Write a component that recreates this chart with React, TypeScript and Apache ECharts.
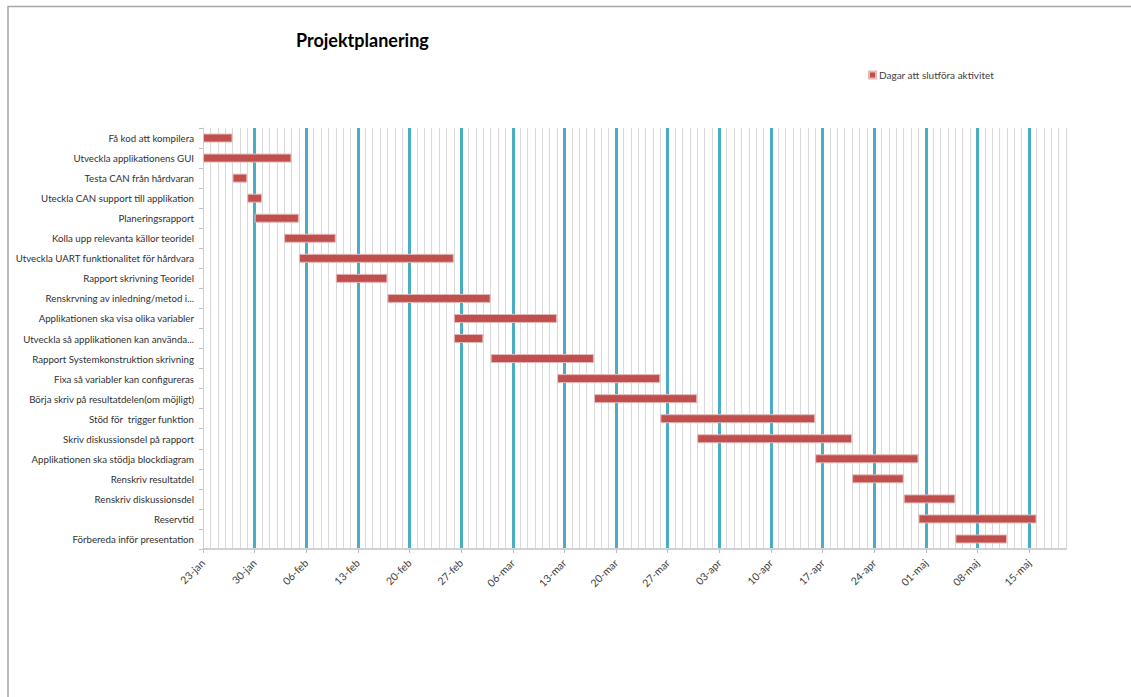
import React, { useEffect, useRef } from "react";
import * as echarts from "echarts";

// Activities, top to bottom
const tasks = [
  "Få kod att kompilera",
  "Utveckla applikationens GUI",
  "Testa CAN från hårdvaran",
  "Uteckla CAN support till applikation",
  "Planeringsrapport",
  "Kolla upp relevanta källor teoridel",
  "Utveckla UART funktionalitet för hårdvara",
  "Rapport skrivning Teoridel",
  "Renskrvning av inledning/metod i...",
  "Applikationen ska visa olika variabler",
  "Utveckla så applikationen kan använda...",
  "Rapport Systemkonstruktion skrivning",
  "Fixa så variabler kan configureras",
  "Börja skriv på resultatdelen(om möjligt)",
  "Stöd för  trigger funktion",
  "Skriv diskussionsdel på rapport",
  "Applikationen ska stödja blockdiagram",
  "Renskriv resultatdel",
  "Renskriv diskussionsdel",
  "Reservtid",
  "Förbereda inför presentation",
];

// Start date of each activity
const startDates = [
  "2011-01-23", "2011-01-23", "2011-01-27", "2011-01-29", "2011-01-30",
  "2011-02-03", "2011-02-05", "2011-02-10", "2011-02-17", "2011-02-26",
  "2011-02-26", "2011-03-03", "2011-03-12", "2011-03-17", "2011-03-26",
  "2011-03-31", "2011-04-16", "2011-04-21", "2011-04-28", "2011-04-30",
  "2011-05-05",
];

// Dagar att slutföra aktivitet
const durations = [4, 12, 2, 2, 6, 7, 21, 7, 14, 14, 4, 14, 14, 14, 21, 21, 14, 7, 7, 16, 7];

// Weekly tick labels
const tickLabels = [
  "23-jan", "30-jan", "06-feb", "13-feb", "20-feb", "27-feb", "06-mar", "13-mar",
  "20-mar", "27-mar", "03-apr", "10-apr", "17-apr", "24-apr", "01-maj", "08-maj", "15-maj",
];

const axisStart = "2011-01-23";
const axisEnd = "2011-05-20";

const DAY = 24 * 3600 * 1000;
const dayOffset = (d: string) => Math.round((Date.parse(d) - Date.parse(axisStart)) / DAY);

const startOffsets = startDates.map(dayOffset);
const maxDay = dayOffset(axisEnd);

const FONT = "Lato, 'Open Sans', sans-serif";

export default function App() {
  const ref = useRef<HTMLDivElement>(null);

  useEffect(() => {
    if (!ref.current) return;
    const chart = echarts.init(ref.current, undefined, { renderer: "svg" });
    chart.setOption({
      animation: false,
      backgroundColor: "#ffffff",
      textStyle: { fontFamily: FONT },
      title: {
        text: "Projektplanering",
        left: 291,
        top: 26,
        textStyle: { fontFamily: FONT, fontSize: 18, fontWeight: "bold", color: "#000000" },
      },
      legend: {
        data: ["Dagar att slutföra aktivitet"],
        left: 863,
        top: 65,
        icon: "rect",
        itemWidth: 7,
        itemHeight: 7,
        itemGap: 10,
        textStyle: { fontFamily: FONT, fontSize: 10, color: "#404040", padding: [0, 0, 0, -2] },
      },
      graphic: [
        {
          type: "polyline",
          shape: { points: [[8, 697], [8, 6.5], [1131, 6.5]] },
          style: { stroke: "#a6a6a6", lineWidth: 1.5, fill: "none" },
          silent: true,
        },
      ],
      grid: { left: 203, right: 65, top: 128, bottom: 148, outerBoundsMode: "none", containLabel: false },
      xAxis: [
        {
          type: "value",
          min: 0,
          max: maxDay,
          interval: 7,
          position: "bottom",
          z: 1,
          axisLine: { show: true, lineStyle: { color: "#d0d0d0", width: 2 } },
          axisTick: { show: true, length: 4, lineStyle: { color: "#bfbfbf" } },
          axisLabel: {
            rotate: 45,
            margin: 12,
            fontSize: 10.5,
            color: "#404040",
            fontFamily: FONT,
            showMaxLabel: false,
            formatter: (v: number) => (v % 7 === 0 ? tickLabels[v / 7] ?? "" : ""),
          },
          splitLine: {
            show: true,
            showMinLine: false,
            showMaxLine: false,
            lineStyle: { color: "#4bacc6", width: 3 },
          },
        },
        {
          type: "value",
          min: 0,
          max: maxDay,
          interval: 1,
          position: "bottom",
          z: 0,
          axisLine: { show: false },
          axisTick: { show: false },
          axisLabel: { show: false },
          splitLine: {
            show: true,
            showMinLine: false,
            showMaxLine: true,
            lineStyle: { color: "#d9d9d9", width: 1 },
          },
        },
      ],
      yAxis: {
        type: "category",
        inverse: true,
        data: tasks,
        axisLine: { show: true, lineStyle: { color: "#d0d0d0", width: 1 } },
        axisTick: { show: true, length: 4, lineStyle: { color: "#bfbfbf" } },
        axisLabel: { fontSize: 9.7, color: "#303030", margin: 9, fontFamily: FONT },
        splitLine: { show: false },
      },
      series: [
        {
          name: "start",
          type: "bar",
          stack: "gantt",
          xAxisIndex: 0,
          data: startOffsets,
          barWidth: 9,
          itemStyle: { color: "transparent" },
          silent: true,
          z: 3,
        },
        {
          name: "Dagar att slutföra aktivitet",
          type: "bar",
          stack: "gantt",
          xAxisIndex: 0,
          data: durations,
          barWidth: 9,
          itemStyle: { color: "#c0504d", borderColor: "#e6b9b8", borderWidth: 1 },
          z: 3,
        },
      ],
    });
    return () => chart.dispose();
  }, []);

  return (
    <div
      ref={ref}
      style={{ position: "absolute", left: 0, top: 0, width: 1131, height: 697, background: "#fff" }}
    />
  );
}
